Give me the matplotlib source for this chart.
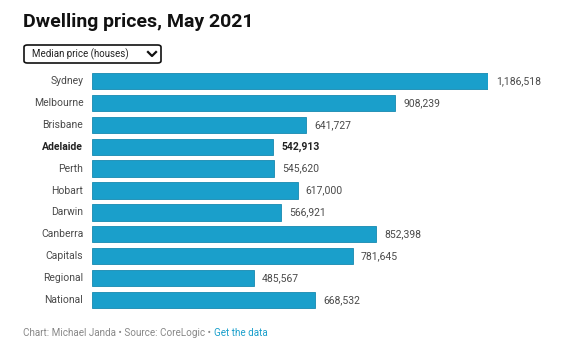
import matplotlib.pyplot as plt
from matplotlib.patches import FancyBboxPatch
from matplotlib.lines import Line2D

plt.rcParams['font.family'] = ['Roboto', 'DejaVu Sans']

cities = ['Sydney', 'Melbourne', 'Brisbane', 'Adelaide', 'Perth', 'Hobart',
          'Darwin', 'Canberra', 'Capitals', 'Regional', 'National']
prices = [1186518, 908239, 641727, 542913, 545620, 617000,
          566921, 852398, 781645, 485567, 668532]
highlight = 'Adelaide'

W, H = 571, 353
fig = plt.figure(figsize=(W / 100, H / 100), dpi=100)

# axes placed in pixel terms
left, right = 92, 488
top, bottom = 70, 311
ax = fig.add_axes([left / W, 1 - bottom / H, (right - left) / W, (bottom - top) / H])

ypos = list(range(len(cities)))
ax.barh(ypos, prices, height=0.74, color='#1a9fcb', edgecolor='#1689b0', linewidth=0.6)
ax.set_xlim(0, max(prices))
ax.set_ylim(len(cities) - 0.5, -0.5)
ax.axis('off')

for y, c, v in zip(ypos, cities, prices):
    w = 'bold' if c == highlight else 'normal'
    col = '#222222' if c == highlight else '#4a4a4a'
    ax.text(-max(prices) * 0.022, y, c, ha='right', va='center', fontsize=7.5,
            color=col, fontweight=w)
    ax.text(v + max(prices) * 0.02, y, f'{v:,}', ha='left', va='center', fontsize=7.5,
            color=col, fontweight=w, clip_on=False)

fig.text(23 / W, 1 - 22 / H, 'Dwelling prices, May 2021', fontsize=14, fontweight='bold',
         color='#111111', va='center', ha='left')

# dropdown box
box = FancyBboxPatch((24 / W, 1 - 63 / H), 137 / W, 18 / H,
                     boxstyle='round,pad=0,rounding_size=0.006',
                     transform=fig.transFigure, facecolor='white',
                     edgecolor='#111111', linewidth=1.2)
fig.patches.append(box)
fig.text(32 / W, 1 - 54 / H, 'Median price (houses)', fontsize=7, color='#222222',
         va='center', ha='left')
fig.lines.append(Line2D([148 / W, 152 / W, 156 / W], [1 - 52 / H, 1 - 56 / H, 1 - 52 / H],
                        transform=fig.transFigure, color='#111111', linewidth=1.6))

# footer
t = fig.text(23 / W, 1 - 333 / H, 'Chart: Michael Janda \u2022 Source: CoreLogic \u2022 ',
             fontsize=7.1, color='#888888', va='center', ha='left')
fig.canvas.draw()
bb = t.get_window_extent()
fig.text(bb.x1 / W, 1 - 333 / H, 'Get the data', fontsize=7.1, color='#1a9fcb',
         va='center', ha='left')

fig.savefig('out.png', dpi=100)
